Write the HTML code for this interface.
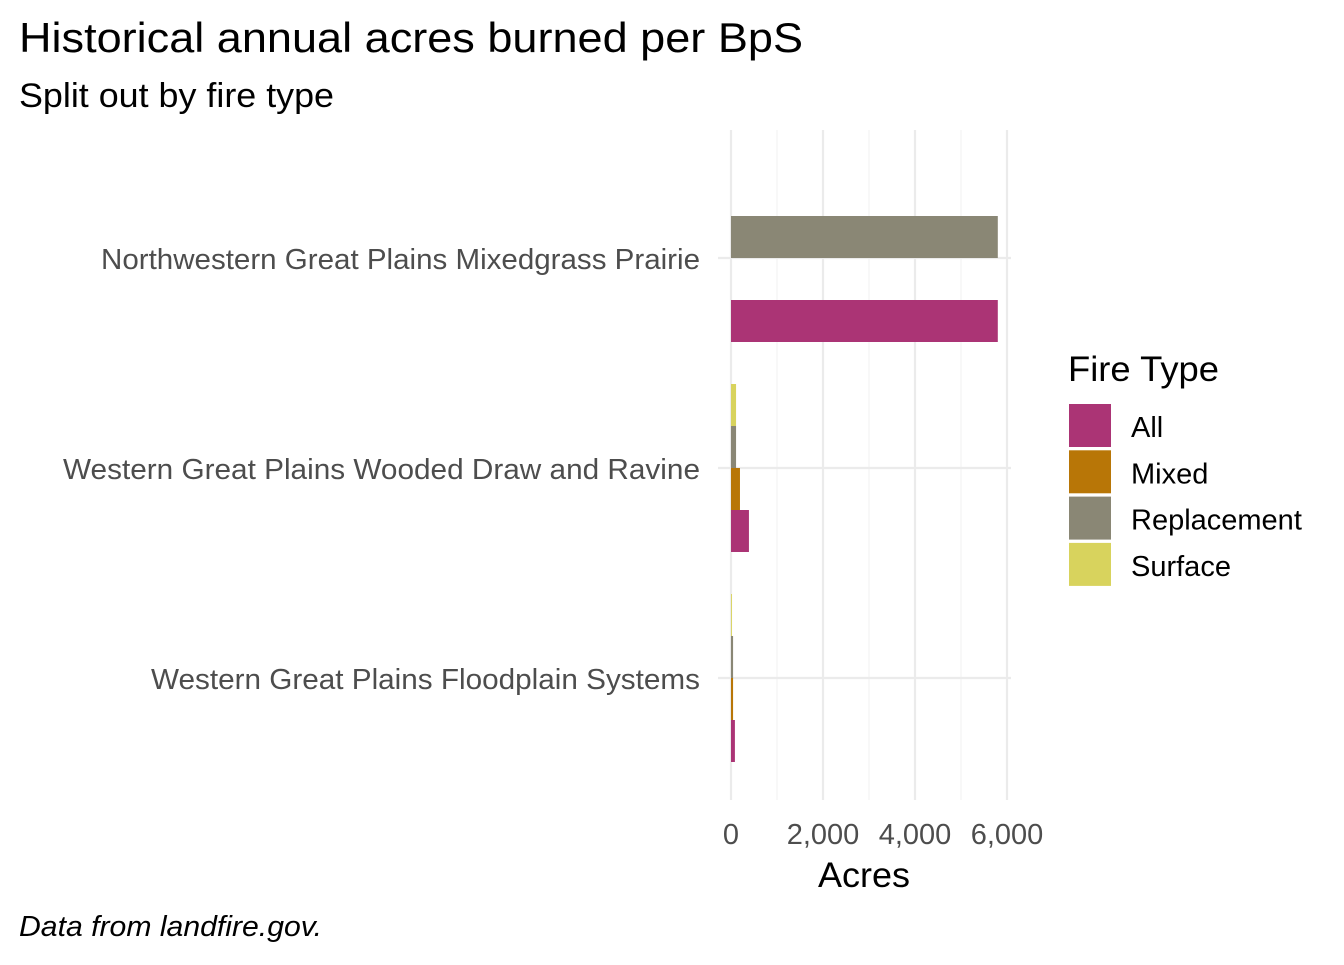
<!DOCTYPE html>
<html><head><meta charset="utf-8"><style>
body{margin:0;background:#fff;}
svg text{font-family:"Liberation Sans",Arial,sans-serif;}
</style></head><body>
<svg width="1344" height="960" xmlns="http://www.w3.org/2000/svg">
<rect width="1344" height="960" fill="#fff"/>
<text x="19" y="52" font-size="42" fill="#000" textLength="784" lengthAdjust="spacingAndGlyphs">Historical annual acres burned per BpS</text>
<text x="19" y="107" font-size="34" fill="#000" textLength="315" lengthAdjust="spacingAndGlyphs">Split out by fire type</text>
<g id="grid"></g>
<g id="bars"></g>
<g id="ylabels"></g>
<g id="xticks"></g>
<text x="864" y="887" font-size="35" text-anchor="middle" fill="#000" textLength="92" lengthAdjust="spacingAndGlyphs">Acres</text>
<text x="19" y="936" font-size="29" font-style="italic" fill="#000" textLength="303" lengthAdjust="spacingAndGlyphs">Data from landfire.gov.</text>
<g id="legend">
<text x="1068" y="381" font-size="35" fill="#000" textLength="151" lengthAdjust="spacingAndGlyphs">Fire Type</text>
</g>
</svg>
<script>
const categories=["Northwestern Great Plains Mixedgrass Prairie","Western Great Plains Wooded Draw and Ravine","Western Great Plains Floodplain Systems"];
const labelWidths=[599,637,549];
const seriesNames=["Surface","Replacement","Mixed","All"];
const surface=[0,110,20];
const replacement=[5800,110,45];
const mixed=[0,195,45];
const all=[5800,390,85];
const xTicks=[0,2000,4000,6000];
const xTickLabels=["0","2,000","4,000","6,000"];
const colors={All:"#ab3475",Mixed:"#b87607",Replacement:"#8a8775",Surface:"#d8d35d"};
const series=[surface,replacement,mixed,all];
const NS="http://www.w3.org/2000/svg";
const x0=731,xScale=276/6000;
const X=v=>x0+v*xScale;
const catY=i=>258+i*210;
const panelL=718,panelR=1011,panelT=130,panelB=800;
function mk(tag,attrs,parent){const e=document.createElementNS(NS,tag);for(const k in attrs)e.setAttribute(k,attrs[k]);parent.appendChild(e);return e;}
const grid=document.getElementById('grid');
for(let i=0;i<xTicks.length-1;i++){const m=(xTicks[i]+xTicks[i+1])/2;
 const l=mk('line',{x1:X(m),x2:X(m),y1:panelT,y2:panelB,stroke:'#f0f0f0','stroke-width':1},grid);
 
 }
xTicks.forEach(t=>{const l=mk('line',{x1:X(t),x2:X(t),y1:panelT,y2:panelB,stroke:'#ebebeb','stroke-width':2.2},grid);
 
 });
categories.forEach((c,i)=>{const l=mk('line',{x1:panelL,x2:panelR,y1:catY(i),y2:catY(i),stroke:'#ebebeb','stroke-width':2.2},grid);
 
 });
const bars=document.getElementById('bars');
const bw=42;
categories.forEach((c,i)=>{series.forEach((s,j)=>{const v=s[i];if(v<=0)return;
 const y=catY(i)-2*bw+j*bw;
 const r=mk('rect',{x:X(0),y:y,width:Math.max(X(v)-X(0),0.8),height:bw,fill:colors[seriesNames[j]]},bars);
 
 });});
const yl=document.getElementById('ylabels');
categories.forEach((c,i)=>{const t=mk('text',{x:700,y:catY(i)+11,'font-size':29,'text-anchor':'end',fill:'#4d4d4d',textLength:labelWidths[i],lengthAdjust:'spacingAndGlyphs'},yl);t.textContent=c;
 
 });
const xt=document.getElementById('xticks');
xTicks.forEach((v,i)=>{const t=mk('text',{x:X(v),y:844,'font-size':29,'text-anchor':'middle',fill:'#4d4d4d'},xt);t.textContent=xTickLabels[i];
 
 });
const lg=document.getElementById('legend');
["All","Mixed","Replacement","Surface"].forEach((n,i)=>{const y=404+i*46.3;
 const r=mk('rect',{x:1069,y:y,width:42,height:43,fill:colors[n]},lg);
 
 
 const t=mk('text',{x:1131,y:y+33,'font-size':29,fill:'#000'},lg);t.textContent=n;
 
 });
</script>
</body></html>
